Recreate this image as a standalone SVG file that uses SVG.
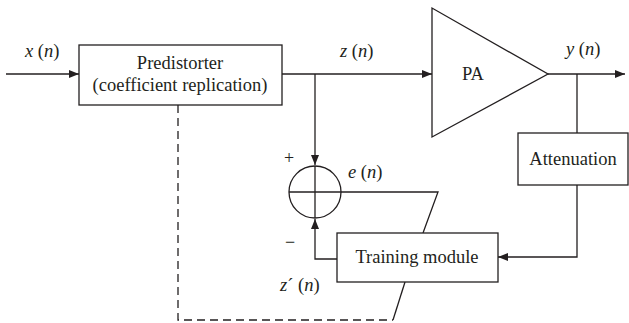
<svg xmlns="http://www.w3.org/2000/svg" width="629" height="323" viewBox="0 0 629 323">
<style>
.s{fill:none;stroke:#231f20;stroke-width:1.3}
.b{fill:#fff;stroke:#231f20;stroke-width:1.3}
.d{fill:none;stroke:#231f20;stroke-width:1.3;stroke-dasharray:8 5}
text{font-family:"Liberation Serif","Times New Roman",serif;font-size:18.5px;fill:#231f20}
.c{text-anchor:middle}
.i{font-style:italic}
</style>
<defs>
<marker id="ah" viewBox="0 0 10 8" refX="10" refY="4" markerWidth="10" markerHeight="8" markerUnits="userSpaceOnUse" orient="auto">
<path d="M0,0 L10,4 L0,8 Z" fill="#231f20"/>
</marker>
</defs>
<g id="connectors">
<line class="s" x1="6" y1="74" x2="79" y2="74" marker-end="url(#ah)"/>
<line class="s" x1="282" y1="74" x2="432" y2="74" marker-end="url(#ah)"/>
<line class="s" x1="315" y1="74" x2="315" y2="165" marker-end="url(#ah)"/>
<line class="s" x1="548" y1="74" x2="625" y2="74" marker-end="url(#ah)"/>
<line class="s" x1="577" y1="74" x2="577" y2="133"/>
<polyline class="s" points="577,185 577,257 498,257" marker-end="url(#ah)"/>
<polyline class="s" points="337,259 315,259 315,219" marker-end="url(#ah)"/>
<polyline class="s" points="341,192 438,192 423,233"/>
<line class="s" x1="405" y1="282" x2="393" y2="320"/>
<polyline class="d" points="178,105 178,320 393,320"/>
</g>
<g id="predistorter">
<rect class="b" x="79" y="45" width="203" height="60"/>
<text class="c" x="180" y="69">Predistorter</text>
<text class="c" x="180" y="91">(coefficient replication)</text>
</g>
<g id="pa">
<polygon class="b" points="432,8 432,137 548,74"/>
<text class="c" x="473" y="80">PA</text>
</g>
<g id="attenuation">
<rect class="b" x="518" y="133" width="110" height="52"/>
<text class="c" x="573" y="165">Attenuation</text>
</g>
<g id="training">
<rect class="b" x="337" y="233" width="161" height="49"/>
<text class="c" x="417" y="263">Training module</text>
</g>
<g id="sum">
<circle class="s" cx="315" cy="192" r="26"/>
<line class="s" x1="289" y1="192" x2="341" y2="192"/>
<line class="s" x1="315" y1="166" x2="315" y2="218"/>
</g>
<g id="labels">
<text x="25" y="57"><tspan class="i">x</tspan> (<tspan class="i">n</tspan>)</text>
<text x="340" y="57"><tspan class="i">z</tspan> (<tspan class="i">n</tspan>)</text>
<text x="566" y="55"><tspan class="i">y</tspan> (<tspan class="i">n</tspan>)</text>
<text x="348" y="178"><tspan class="i">e</tspan> (<tspan class="i">n</tspan>)</text>
<text x="280" y="291"><tspan class="i">z</tspan>´ (<tspan class="i">n</tspan>)</text>
<text class="c" x="289" y="164" style="font-size:18px">+</text>
<text class="c" x="290" y="248" style="font-size:18px">−</text>
</g>
</svg>
